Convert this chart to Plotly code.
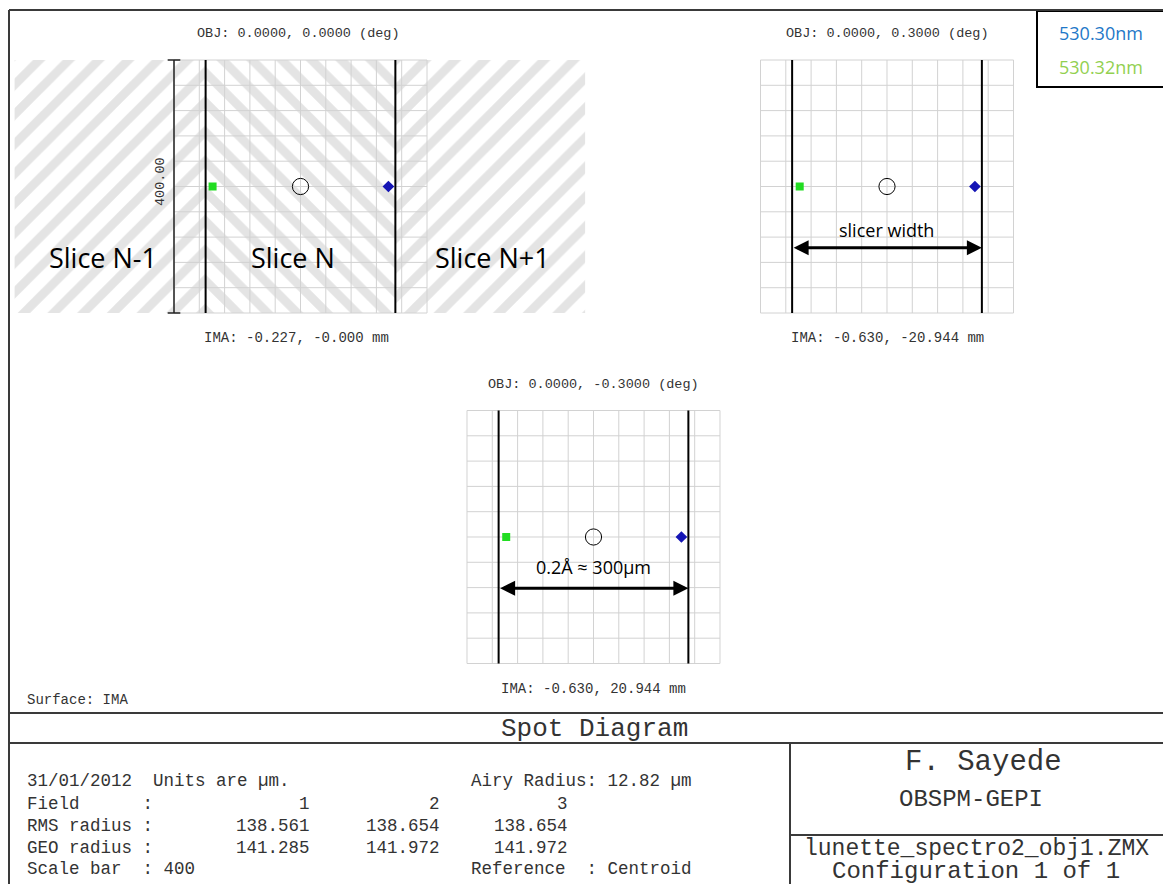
import plotly.graph_objects as go

# The page body has an 8 px margin; the figure is sized/offset to fill the window.
PAGE_W, PAGE_H = 1171, 884
OX, OY = 8, 8
W, H = PAGE_W - OX, PAGE_H - OY
S = 0.6325  # px per micron on screen

# ------------------------- data -------------------------
fields = [1, 2, 3]
obj_field_deg = [(0.0, 0.0), (0.0, 0.3), (0.0, -0.3)]
ima_mm = [(-0.227, -0.0), (-0.630, -20.944), (-0.630, 20.944)]
rms_radius = [138.561, 138.654, 138.654]
geo_radius = [141.285, 141.972, 141.972]
airy_radius = 12.82
scale_bar = 400
grid_step = 40
slice_edges = [-150, 150]
hatch_extent = [-452, 450]
spot_green_x = [-139, -138, -138]
spot_blue_x = [139, 139, 139]
spot_y = [0, 0, 0]
wavelengths = ["530.30nm", "530.32nm"]
wave_colors = ["#1f78c8", "#92d050"]
slice_names = ["Slice N-1", "Slice N", "Slice N+1"]
slice_label_x = [-312, -12, 303]
slice_label_y = -112
arrow_texts = ["slicer width", "0.2\u00c5 \u2248 300\u00b5m"]
arrow_y = [-97, -81]
arrow_text_y = [-69, -48]
date_text = "31/01/2012"
title_text = "Spot Diagram"
author = "F. Sayede"
lab = "OBSPM-GEPI"
file_name = "lunette_spectro2_obj1.ZMX"
config_text = "Configuration 1 of 1"

MONO = "Liberation Mono"
SANS = "Open Sans"
TXT = "#333333"


def fx(px):
    return (px - OX) / W


def fy(py):
    return 1 - (py - OY) / H


# panel geometry (page px of grid centre, axis ranges in microns)
panels = [
    dict(cx=300.5, cy=186.5, xr=(-456, 454), yr=(-204, 204)),
    dict(cx=887.0, cy=186.5, xr=(-206, 206), yr=(-206, 206)),
    dict(cx=593.5, cy=537.0, xr=(-206, 206), yr=(-206, 206)),
]

fig = go.Figure()
half = scale_bar / 2
ticks = [-half + i * grid_step for i in range(int(scale_bar / grid_step) + 1)]

for i, p in enumerate(panels):
    sfx = "" if i == 0 else str(i + 1)
    xa, ya = "x" + sfx, "y" + sfx
    if i == 0:
        regions = [(hatch_extent[0], slice_edges[0], "/"),
                   (slice_edges[0], slice_edges[1], "\\"),
                   (slice_edges[1], hatch_extent[1], "/")]
        for x0, x1, shp in regions:
            fig.add_trace(go.Scatter(
                x=[x0, x1, x1, x0, x0], y=[-half, -half, half, half, -half],
                xaxis=xa, yaxis=ya, mode="lines", line=dict(width=0),
                fill="toself", fillcolor="white",
                fillpattern=dict(shape=shp, size=21, solidity=0.42,
                                 fgcolor="#c9c9c9", bgcolor="white"),
                hoverinfo="skip", showlegend=False))
    gx, gy = [], []
    for t in ticks:
        gx += [t, t, None]; gy += [-half, half, None]
        gx += [-half, half, None]; gy += [t, t, None]
    fig.add_trace(go.Scatter(x=gx, y=gy, xaxis=xa, yaxis=ya, mode="lines",
                             line=dict(color="#d2d2d2", width=1),
                             hoverinfo="skip", showlegend=False))
    ex, ey = [], []
    for e in slice_edges:
        ex += [e, e, None]; ey += [-half, half, None]
    fig.add_trace(go.Scatter(x=ex, y=ey, xaxis=xa, yaxis=ya, mode="lines",
                             line=dict(color="black", width=2),
                             hoverinfo="skip", showlegend=False))
    if i == 0:
        cap = 10
        fig.add_trace(go.Scatter(
            x=[-half, -half, None, -half - cap, -half + cap, None, -half - cap, -half + cap],
            y=[-half, half, None, half, half, None, -half, -half],
            xaxis=xa, yaxis=ya, mode="lines", line=dict(color="#222222", width=1.5),
            hoverinfo="skip", showlegend=False))
    fig.add_trace(go.Scatter(x=[spot_green_x[i]], y=[spot_y[i]], xaxis=xa, yaxis=ya,
                             mode="markers", marker=dict(symbol="square", size=8, color="#22dd22"),
                             hoverinfo="skip", showlegend=False))
    fig.add_trace(go.Scatter(x=[spot_blue_x[i]], y=[spot_y[i]], xaxis=xa, yaxis=ya,
                             mode="markers", marker=dict(symbol="diamond", size=9, color="#1515b5"),
                             hoverinfo="skip", showlegend=False))
    fig.add_shape(type="circle", xref=xa, yref=ya, x0=-airy_radius, x1=airy_radius,
                  y0=-airy_radius, y1=airy_radius, line=dict(color="black", width=1))

lay = {}
for i, p in enumerate(panels):
    sfx = "" if i == 0 else str(i + 1)
    x0 = fx(p["cx"] + p["xr"][0] * S)
    x1 = fx(p["cx"] + p["xr"][1] * S)
    ytop = p["cy"] - p["yr"][1] * S
    ybot = p["cy"] - p["yr"][0] * S
    lay["xaxis" + sfx] = dict(domain=[x0, x1], range=list(p["xr"]), visible=False,
                              fixedrange=True, anchor="y" + sfx)
    lay["yaxis" + sfx] = dict(domain=[fy(ybot), fy(ytop)], range=list(p["yr"]),
                              visible=False, fixedrange=True, anchor="x" + sfx)
fig.update_layout(**lay)


def ann(text, px, py, size, family=MONO, color=TXT, xanchor="center", **kw):
    return dict(text=text, x=fx(px), y=fy(py), xref="paper", yref="paper",
                showarrow=False, xanchor=xanchor, yanchor="middle",
                font=dict(family=family, size=size, color=color), **kw)


annots = []
obj_pos = [(298, 34), (887, 34), (593, 384)]
ima_pos = [(296, 338), (887, 338), (593, 689)]
for i in range(3):
    a, b = obj_field_deg[i]
    annots.append(ann(f"OBJ: {a:.4f}, {b:.4f} (deg)", *obj_pos[i], 13.5))
    c, d = ima_mm[i]
    annots.append(ann(f"IMA: {c:.3f}, {d:.3f} mm", *ima_pos[i], 14))

annots.append(ann("Surface: IMA", 25, 700, 14, xanchor="left"))
annots.append(ann(f"{scale_bar:.2f}", 160, 182, 13.5, textangle=-90))

for name, sx in zip(slice_names, slice_label_x):
    annots.append(dict(text=name, x=sx, y=slice_label_y, xref="x", yref="y", showarrow=False,
                       font=dict(family=SANS, size=27, color="black")))

for k, sfx in enumerate(["2", "3"]):
    annots.append(dict(text="", x=slice_edges[1], y=arrow_y[k], ax=slice_edges[0], ay=arrow_y[k],
                       xref="x" + sfx, yref="y" + sfx, axref="x" + sfx, ayref="y" + sfx,
                       showarrow=True, arrowside="end+start", arrowhead=2, arrowsize=1,
                       arrowwidth=3, arrowcolor="black", standoff=0, startstandoff=0))
    annots.append(dict(text=arrow_texts[k], x=0, y=arrow_text_y[k], xref="x" + sfx, yref="y" + sfx,
                       showarrow=False, font=dict(family=SANS, size=18, color="black")))

annots.append(ann(wavelengths[0], 1101, 33, 18, family=SANS, color=wave_colors[0]))
annots.append(ann(wavelengths[1], 1101, 67, 18, family=SANS, color=wave_colors[1]))

annots.append(ann(title_text, 594, 729, 26))

NB = "\u00a0"
rows_y = [781, 804, 826, 848, 869]
FS = 17.5
annots.append(ann(f"{date_text}{NB}{NB}Units{NB}are{NB}\u00b5m.", 25, rows_y[0], FS, xanchor="left"))
annots.append(ann(f"Airy{NB}Radius:{NB}{airy_radius:.2f}{NB}\u00b5m", 469, rows_y[0], FS, xanchor="left"))
annots.append(ann(f"Field{NB*6}:", 25, rows_y[1], FS, xanchor="left"))
annots.append(ann(f"RMS{NB}radius{NB}:", 25, rows_y[2], FS, xanchor="left"))
annots.append(ann(f"GEO{NB}radius{NB}:", 25, rows_y[3], FS, xanchor="left"))
annots.append(ann(f"Scale{NB}bar{NB}{NB}:{NB}{scale_bar}", 25, rows_y[4], FS, xanchor="left"))
annots.append(ann(f"Reference{NB}{NB}:{NB}Centroid", 469, rows_y[4], FS, xanchor="left"))
col_right = [312, 442, 570]
for j in range(3):
    annots.append(ann(str(fields[j]), col_right[j], rows_y[1], FS, xanchor="right"))
    annots.append(ann(f"{rms_radius[j]:.3f}", col_right[j], rows_y[2], FS, xanchor="right"))
    annots.append(ann(f"{geo_radius[j]:.3f}", col_right[j], rows_y[3], FS, xanchor="right"))

annots.append(ann(author, 983, 762, 29))
annots.append(ann(lab, 971, 799, 24))
annots.append(ann(file_name, 976, 849, 23))
annots.append(ann(config_text, 976, 871, 24))

fig.update_layout(annotations=annots)


def pline(x0, y0, x1, y1, color="#3a3a3a", width=2):
    return dict(type="line", xref="paper", yref="paper", x0=fx(x0), x1=fx(x1),
                y0=fy(y0), y1=fy(y1), line=dict(color=color, width=width), layer="above")


shapes = list(fig.layout.shapes)
shapes += [
    pline(9, 10, PAGE_W, 10),
    pline(9, 10, 9, PAGE_H),
    pline(9, 713, PAGE_W, 713),
    pline(9, 743, PAGE_W, 743),
    pline(790, 743, 790, PAGE_H),
    pline(790, 835, PAGE_W, 835),
    dict(type="rect", xref="paper", yref="paper", x0=fx(1037), x1=fx(1170),
         y0=fy(87), y1=fy(11), line=dict(color="black", width=2), layer="below",
         fillcolor="white"),
]
fig.update_layout(shapes=shapes)

fig.update_layout(width=W, height=H, margin=dict(l=0, r=0, t=0, b=0),
                  paper_bgcolor="white", plot_bgcolor="rgba(0,0,0,0)", showlegend=False)

fig.write_html("out.html")
